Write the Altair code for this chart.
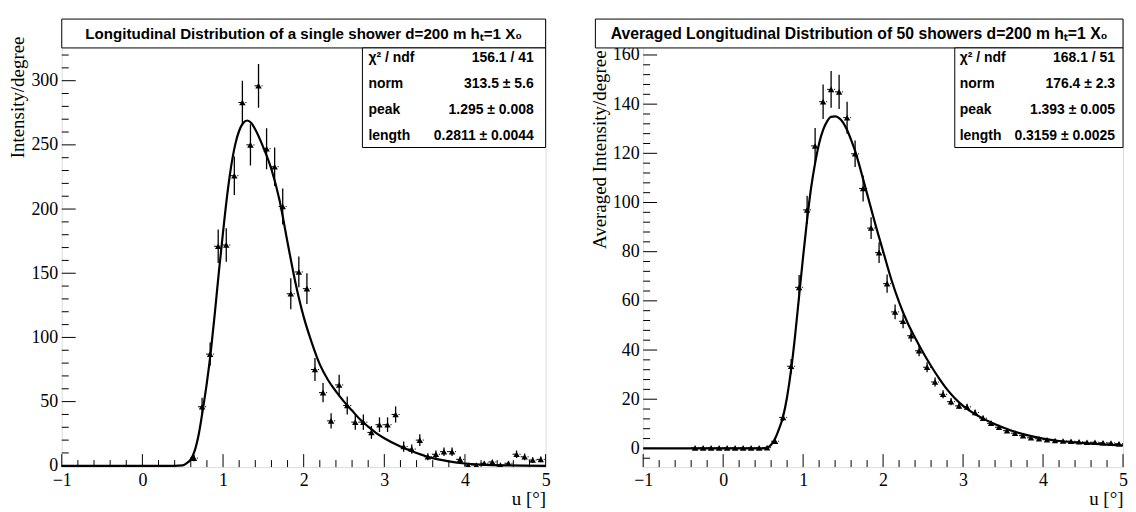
import altair as alt
import pandas as pd

# ---------------- data: single shower (left) ----------------
left_u = [0.64, 0.74, 0.84, 0.94, 1.04, 1.14, 1.24, 1.34, 1.44, 1.54, 1.64, 1.74, 1.84, 1.94,
          2.04, 2.14, 2.24, 2.34, 2.44, 2.54, 2.64, 2.74, 2.84, 2.94, 3.04, 3.14, 3.24, 3.34,
          3.44, 3.54, 3.64, 3.74, 3.84, 3.94, 4.04, 4.14, 4.24, 4.34, 4.44, 4.54, 4.64, 4.74,
          4.84, 4.94]
left_v = [6, 46, 87, 171, 172, 226, 283, 250, 296, 247, 233, 202, 134, 151,
          138, 75, 57, 35, 63, 47, 34, 34, 26, 32, 32, 40, 15, 13,
          20, 7, 9, 11, 11, 5, 0.5, 0.5, 2, 3, 0.5, 2, 9, 7,
          4.5, 5]
left_err = [2.5, 7, 9, 13, 13, 15, 17, 16, 17, 16, 15, 14, 12, 12,
            12, 9, 7.5, 6, 8, 7, 6, 6, 5, 5.7, 5.7, 6.3, 4, 3.6,
            4.5, 2.7, 3, 3.3, 3.3, 2.2, 0.7, 0.7, 1.4, 1.7, 0.7, 1.4, 3, 2.6,
            2.1, 2.2]
left_fit_u = [-1.0, 0.40, 0.50, 0.55, 0.60, 0.65, 0.70, 0.75, 0.80, 0.85, 0.90, 0.95, 1.00,
              1.05, 1.10, 1.15, 1.20, 1.25, 1.30, 1.35, 1.40, 1.50, 1.60, 1.70, 1.80, 1.90,
              2.00, 2.10, 2.20, 2.30, 2.40, 2.50, 2.60, 2.70, 2.80, 2.90, 3.00, 3.20, 3.40,
              3.60, 3.80, 4.00, 4.20, 4.50, 5.00]
left_fit_v = [0, 0, 0.3, 2, 5, 12, 25, 44, 65, 90, 120, 152, 182,
              210, 233, 250, 261, 267, 269, 267, 262, 248, 231, 207, 174, 142,
              116, 96, 79, 67, 58, 50, 43, 36, 30.5, 25.5, 21.5, 15, 10,
              6, 3.5, 1.8, 0.9, 0.3, 0]

# ---------------- data: 50 showers averaged (right) ----------------
right_u = [-0.35, -0.25, -0.15, -0.05, 0.05, 0.15, 0.25, 0.35, 0.45, 0.55,
           0.65, 0.75, 0.85, 0.95, 1.05, 1.15, 1.25, 1.35, 1.45, 1.55, 1.65, 1.75,
           1.85, 1.95, 2.05, 2.15, 2.25, 2.35, 2.45, 2.55, 2.65, 2.75, 2.85, 2.95,
           3.05, 3.15, 3.25, 3.35, 3.45, 3.55, 3.65, 3.75, 3.85, 3.95, 4.05, 4.15,
           4.25, 4.35, 4.45, 4.55, 4.65, 4.75, 4.85, 4.95]
right_v = [0.2, 0.2, 0.2, 0.2, 0.2, 0.2, 0.2, 0.2, 0.2, 0.3,
           2.9, 12.6, 33.4, 65.5, 97, 123, 141, 146, 145, 134.5, 119.8, 105.7,
           89.6, 79.6, 67, 55.5, 51.7, 45.8, 39.7, 33, 27, 22, 19, 17.3,
           16.9, 14.6, 12.3, 10.2, 8.6, 7.2, 6.2, 5.2, 4.3, 3.9, 3.5, 3.2,
           3.0, 2.9, 2.7, 2.5, 2.5, 2.3, 2.2, 1.9]
right_err = [0.2, 0.2, 0.2, 0.2, 0.2, 0.2, 0.2, 0.2, 0.2, 0.3,
             0.6, 1.5, 3, 5, 5.7, 7.3, 7, 7.5, 7, 6.5, 5.4, 5.3,
             4.4, 4.2, 3.7, 3, 2.8, 2.4, 2.2, 2, 1.8, 1.6, 1.5, 1.3,
             1.3, 1.2, 1.1, 1, 0.9, 0.8, 0.8, 0.7, 0.6, 0.6, 0.6, 0.5,
             0.5, 0.5, 0.5, 0.5, 0.5, 0.5, 0.5, 0.5]
right_fit_u = [-1.0, 0.50, 0.55, 0.60, 0.65, 0.70, 0.75, 0.80, 0.85, 0.90, 0.95, 1.00,
               1.05, 1.10, 1.15, 1.20, 1.25, 1.30, 1.35, 1.40, 1.45, 1.50, 1.55, 1.60,
               1.65, 1.70, 1.75, 1.80, 1.85, 1.90, 1.95, 2.00, 2.10, 2.20, 2.30, 2.40,
               2.50, 2.60, 2.70, 2.80, 2.90, 3.00, 3.20, 3.40, 3.60, 3.80, 4.00, 4.20,
               4.40, 4.60, 4.80, 5.00]
right_fit_v = [0, 0, 0.3, 1.5, 4, 8, 13, 21, 32, 46, 62, 78,
               93, 106, 116, 124, 129.5, 133, 134.8, 135, 134.3, 132.5, 129.5, 125.5,
               121, 115.5, 109.5, 103.5, 97.5, 91.5, 85.8, 80.2, 69, 59.5, 51.5, 45,
               39, 33.5, 28.5, 24, 20.3, 17.3, 13, 9.8, 7.3, 5.4, 4.0, 3.0,
               2.4, 1.9, 1.5, 1.2]

# ---------------- axes / labels ----------------
x_major = [-1, 0, 1, 2, 3, 4, 5]
left_y_major = [0, 50, 100, 150, 200, 250, 300]
right_y_major = [0, 20, 40, 60, 80, 100, 120, 140, 160]

left_title = "Longitudinal Distribution of a single shower d=200 m hₜ=1 X₀"
right_title = "Averaged Longitudinal Distribution of 50 showers d=200 m hₜ=1 X₀"
stat_names = ["χ² / ndf", "norm", "peak", "length"]
left_stats = ["156.1 / 41", "313.5 ± 5.6", "1.295 ± 0.008", "0.2811 ± 0.0044"]
right_stats = ["168.1 / 51", "176.4 ± 2.3", "1.393 ± 0.005", "0.3159 ± 0.0025"]

SERIF = "Liberation Serif"
SANS = "Liberation Sans"
H = 450
ONE = pd.DataFrame({"d": [0]})


def panel(W, ydom, ymajor, ystep_minor, ytitle, ytitle_y, u, v, err, fu, fv,
          title, title_x0, title_fs, stats, box_w, lab_dx, val_dx):
    xs = alt.Scale(domain=[-1, 5], nice=False, zero=False)
    ys = alt.Scale(domain=ydom, nice=False, zero=False)
    xaxis = alt.Axis(values=x_major, format="d", labelFont=SERIF, labelFontSize=18,
                     labelColor="black", labelPadding=5, labelFlush=False,
                     labelOverlap=False, ticks=False, tickSize=0, domain=False,
                     grid=False, title="u [°]", titleFont=SERIF, titleFontSize=19,
                     titleFontWeight="normal", titleColor="black", titleAnchor="end",
                     titleAlign="right", titleX=W, titleY=38, titleBaseline="alphabetic")
    yaxis = alt.Axis(values=ymajor, format="d", labelFont=SERIF, labelFontSize=18,
                     labelColor="black", labelPadding=4, labelFlush=False,
                     labelOverlap=False, ticks=False, tickSize=0, domain=False,
                     grid=False, title=ytitle, titleFont=SERIF, titleFontSize=19,
                     titleFontWeight="normal", titleColor="black", titleAngle=270,
                     titleAlign="right", titleBaseline="middle", titleX=-44,
                     titleY=ytitle_y)

    def X(f):
        return alt.X(f, type="quantitative", scale=xs, axis=xaxis)

    def Y(f):
        return alt.Y(f, type="quantitative", scale=ys, axis=yaxis)

    x_minor = [round(-1 + 0.2 * i, 2) for i in range(31) if i % 5 != 0]
    y_minor = [ystep_minor * i for i in range(int(ydom[0] // ystep_minor) + 1,
                                              int(ydom[1] // ystep_minor) + 1)
               if (ystep_minor * i) % (ymajor[1]) != 0]

    pts = pd.DataFrame({"u": u, "v": v, "err": err})
    fit = pd.DataFrame({"u": fu, "v": fv})

    layers = [
        alt.Chart(pd.DataFrame({"t": x_major})).mark_rule(color="black", strokeWidth=1)
        .encode(x=X("t"), y=alt.value(H), y2=alt.value(H - 13)),
        alt.Chart(pd.DataFrame({"t": x_minor})).mark_rule(color="black", strokeWidth=1)
        .encode(x=X("t"), y=alt.value(H), y2=alt.value(H - 7)),
        alt.Chart(pd.DataFrame({"t": ymajor})).mark_rule(color="black", strokeWidth=1)
        .encode(y=Y("t"), x=alt.value(0), x2=alt.value(14)),
        alt.Chart(pd.DataFrame({"t": y_minor})).mark_rule(color="black", strokeWidth=1)
        .encode(y=Y("t"), x=alt.value(0), x2=alt.value(7)),
        alt.Chart(pts).transform_calculate(lo="datum.v - datum.err", hi="datum.v + datum.err")
        .mark_rule(color="black", strokeWidth=1.3, clip=True)
        .encode(x=X("u"), y=Y("lo:Q"), y2="hi:Q"),
        alt.Chart(pts).transform_calculate(ulo="datum.u - 0.05", uhi="datum.u + 0.05")
        .mark_rule(color="black", strokeWidth=1, strokeDash=[3, 4], clip=True)
        .encode(x=X("ulo:Q"), x2="uhi:Q", y=Y("v")),
        alt.Chart(pts).mark_point(shape="triangle-up", filled=True, size=42,
                                  color="black", opacity=1, clip=True)
        .encode(x=X("u"), y=Y("v")),
        alt.Chart(fit).mark_line(color="black", strokeWidth=2.2, interpolate="monotone",
                                 clip=True)
        .encode(x=X("u"), y=Y("v")),
        # title box
        alt.Chart(ONE).mark_rect(fill="white", stroke="black", strokeWidth=1)
        .encode(x=alt.value(title_x0), x2=alt.value(W), y=alt.value(0), y2=alt.value(29)),
        alt.Chart(ONE).mark_text(font=SANS, fontSize=title_fs, fontWeight="bold",
                                 color="black", align="center", baseline="middle")
        .encode(x=alt.value((title_x0 + W) / 2), y=alt.value(15), text=alt.value(title)),
        # stats box
        alt.Chart(ONE).mark_rect(fill="white", stroke="black", strokeWidth=1)
        .encode(x=alt.value(W - box_w), x2=alt.value(W), y=alt.value(29), y2=alt.value(129)),
    ]
    for i, (name, val) in enumerate(zip(stat_names, stats)):
        yy = 39 + 26 * i
        layers.append(
            alt.Chart(ONE).mark_text(font=SANS, fontSize=14, fontWeight="bold",
                                     color="black", align="left", baseline="middle")
            .encode(x=alt.value(W - box_w + lab_dx), y=alt.value(yy), text=alt.value(name)))
        layers.append(
            alt.Chart(ONE).mark_text(font=SANS, fontSize=14, fontWeight="bold",
                                     color="black", align="right", baseline="middle")
            .encode(x=alt.value(W - val_dx), y=alt.value(yy), text=alt.value(val)))
    return alt.layer(*layers).properties(width=W, height=H)


left = panel(486, [-1, 348], left_y_major, 10, "Intensity/degree", 17,
             left_u, left_v, left_err, left_fit_u, left_fit_v,
             left_title, 0, 15.2, left_stats, 184, 6, 12)
right = panel(482, [-7.6, 174.6], right_y_major, 4, "Averaged Intensity/degree", 31,
              right_u, right_v, right_err, right_fit_u, right_fit_v,
              right_title, -48, 15.8, right_stats, 169, 5, 8)

chart = (
    alt.hconcat(left, right, spacing=98, bounds="flush")
    .properties(padding={"left": 0, "top": 9, "right": 0, "bottom": 0})
    .configure_view(stroke="black", strokeWidth=1)
    .configure(background="white")
)

chart.save("out.html", embed_options={"renderer": "svg", "actions": False})
